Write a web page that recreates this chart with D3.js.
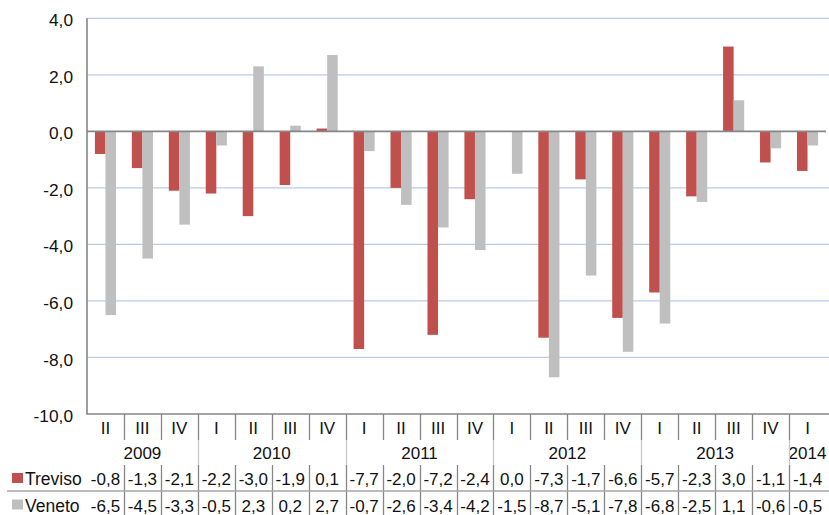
<!DOCTYPE html>
<html><head><meta charset="utf-8">
<script src="https://cdn.jsdelivr.net/npm/d3@7"></script>
<style>
html,body{margin:0;padding:0;background:#fff;}
svg{display:block;font-family:"Liberation Sans",Arial,sans-serif;}
</style></head>
<body>
<svg id="chart" width="829" height="515"></svg>
<script>
const quarters = ["II","III","IV","I","II","III","IV","I","II","III","IV","I","II","III","IV","I","II","III","IV","I"];
const years = ["2009","2010","2011","2012","2013","2014"];
const yearSpans = [3,4,4,4,4,1];
const seriesNames = ["Treviso","Veneto"];
const treviso = [-0.8,-1.3,-2.1,-2.2,-3.0,-1.9,0.1,-7.7,-2.0,-7.2,-2.4,0.0,-7.3,-1.7,-6.6,-5.7,-2.3,3.0,-1.1,-1.4];
const veneto = [-6.5,-4.5,-3.3,-0.5,2.3,0.2,2.7,-0.7,-2.6,-3.4,-4.2,-1.5,-8.7,-5.1,-7.8,-6.8,-2.5,1.1,-0.6,-0.5];
const yTicks = [4,2,0,-2,-4,-6,-8,-10];
const colors = ["#C0504D","#BFBFBF"];

(function(){
const svg = d3.select("#chart");
const pL = 87, pR = 826, pT = 18.3, pB = 414;
const idx = d3.range(quarters.length);
const x0 = d3.scaleBand().domain(idx).range([pL, pR]).padding(0);
const step = x0.bandwidth();
const x1 = d3.scaleBand().domain(seriesNames).range([step*0.75/3.5, step*2.75/3.5]).padding(0);
const y = d3.scaleLinear().domain([-10, 4]).range([pB, pT]);
const fmt = v => d3.format(".1f")(v).replace(".", ",").replace("−","-");
const FS = 17;

// gridlines
svg.append("g").selectAll("line").data(yTicks.filter(t => t !== 0 && t !== -10)).join("line")
  .attr("x1", pL).attr("x2", 829).attr("y1", d => y(d)).attr("y2", d => y(d))
  .attr("stroke", "#B9CCEA").attr("stroke-width", 1.2);

// y axis labels
const yAxis = d3.axisLeft(y).tickValues(yTicks).tickSize(0).tickPadding(14).tickFormat(fmt);
const gy = svg.append("g").attr("transform", `translate(${pL},2)`).call(yAxis);
gy.select(".domain").remove();
gy.selectAll("text").attr("font-size", 17.3).attr("fill", "#111").attr("font-family", "Liberation Sans, Arial, sans-serif");

// bars
const data = [treviso, veneto];
const bars = svg.append("g");
data.forEach((vals, s) => {
  bars.selectAll(null).data(vals).join("rect")
    .attr("x", (d, i) => x0(i) + x1(seriesNames[s]))
    .attr("width", x1.bandwidth())
    .attr("y", d => y(Math.max(0, d)))
    .attr("height", d => Math.abs(y(d) - y(0)))
    .attr("fill", colors[s]);
});

// axes lines
svg.append("line").attr("x1", pL).attr("x2", pL).attr("y1", pT).attr("y2", pB)
  .attr("stroke", "#868686").attr("stroke-width", 1.6);
svg.append("line").attr("x1", pL).attr("x2", pR).attr("y1", y(0)).attr("y2", y(0))
  .attr("stroke", "#868686").attr("stroke-width", 1.6);
svg.append("line").attr("x1", pL - 0.8).attr("x2", 829).attr("y1", pB).attr("y2", pB)
  .attr("stroke", "#868686").attr("stroke-width", 1.6);

// data table
const rowQ = 434, rowY = 459, rowT = 485, rowV = 511.5;
const table = svg.append("g").attr("font-size", FS).attr("fill", "#111");
table.selectAll(".q").data(quarters).join("text").attr("class","q")
  .attr("x", (d, i) => x0(i) + step/2).attr("y", rowQ).attr("text-anchor","middle").text(d => d);
let cum = 0;
const yearStart = yearSpans.map(s => { const c = cum; cum += s; return c; });
table.selectAll(".y").data(years).join("text").attr("class","y")
  .attr("x", (d, i) => x0(yearStart[i]) + yearSpans[i]*step/2).attr("y", rowY)
  .attr("text-anchor","middle").text(d => d);
[treviso, veneto].forEach((vals, s) => {
  table.selectAll(null).data(vals).join("text")
    .attr("x", (d, i) => x0(i) + step/2).attr("y", s === 0 ? rowT : rowV)
    .attr("text-anchor","middle").text(d => fmt(d));
});
seriesNames.forEach((n, s) => {
  const ry = s === 0 ? rowT : rowV;
  svg.append("rect").attr("x", 12).attr("y", ry - 12).attr("width", 11).attr("height", 10).attr("fill", colors[s]);
  svg.append("text").attr("x", 25).attr("y", ry).attr("font-size", 17.5).attr("fill", "#111").text(n);
});
const lines = svg.append("g");
const yearBounds = new Set(yearStart.filter(v => v > 0));
d3.range(1, quarters.length).forEach(i => {
  const xx = Math.round(x0(i)) + 0.5;
  lines.append("line").attr("x1", xx).attr("x2", xx).attr("y1", pB).attr("y2", 440)
    .attr("stroke", "#868686").attr("stroke-width", 1.3);
  if (yearBounds.has(i)) {
    lines.append("line").attr("x1", xx).attr("x2", xx).attr("y1", 440).attr("y2", 465)
      .attr("stroke", "#C8C8C8").attr("stroke-width", 1.3);
  }
  lines.append("line").attr("x1", xx).attr("x2", xx).attr("y1", 465).attr("y2", 515)
    .attr("stroke", "#868686").attr("stroke-width", 1.3);
});
svg.append("line").attr("x1", 7).attr("x2", 829).attr("y1", 491).attr("y2", 491)
  .attr("stroke", "#A6A6A6").attr("stroke-width", 1.3);
})();
</script>
</body></html>
